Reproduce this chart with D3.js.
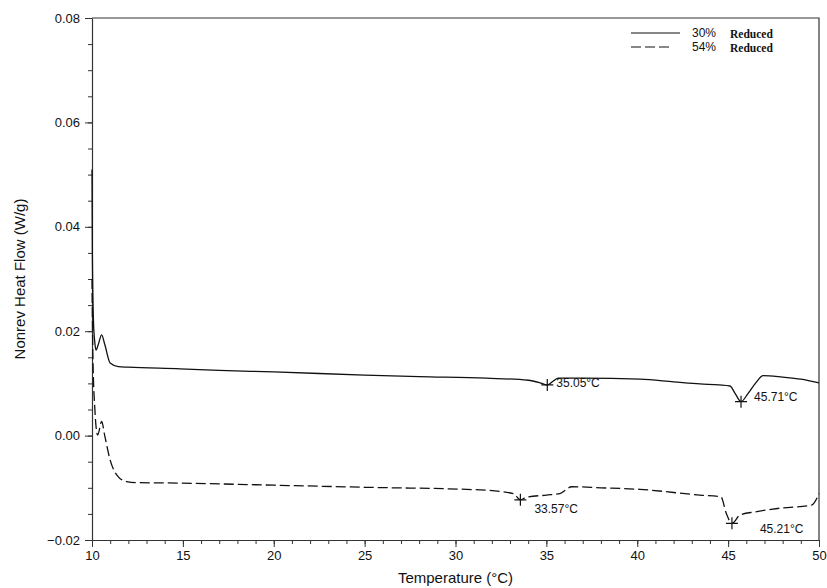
<!DOCTYPE html>
<html>
<head>
<meta charset="utf-8">
<script src="https://cdn.jsdelivr.net/npm/d3@7"></script>
<style>
  body { margin: 0; background: #fff; }
  svg { font-family: "Liberation Sans", Arial, sans-serif; }
</style>
</head>
<body>
<div id="chart"></div>
<script>
// Temperature (°C) and nonreversing heat flow (W/g)
var temp30 = [10.0, 10.02, 10.08, 10.15, 10.22, 10.35, 10.53, 10.7, 11.0, 11.45, 12, 14.84, 17, 20, 25, 28, 31.7, 34.0, 34.75, 35.05, 35.4, 35.65, 37, 40.16, 42, 43.45, 44.5, 45.1, 45.38, 45.71, 46.1, 46.5, 46.93, 48, 49, 50];
var flow30 = [0.051, 0.035, 0.022, 0.018, 0.0164, 0.0175, 0.0193, 0.0175, 0.0139, 0.0132, 0.0131, 0.0128, 0.0125, 0.0122, 0.0116, 0.0113, 0.0110, 0.0106, 0.0100, 0.0097, 0.0105, 0.0110, 0.0110, 0.0108, 0.0103, 0.0099, 0.0097, 0.0095, 0.0081, 0.0065, 0.0081, 0.0100, 0.0115, 0.0112, 0.0108, 0.0101];

var temp54 = [10.0, 10.05, 10.15, 10.31, 10.53, 10.7, 11.0, 11.45, 11.9, 12.5, 14.84, 20, 25, 31.35, 33.18, 33.57, 33.9, 35.0, 35.75, 36.4, 38, 40.15, 43.45, 44.6, 44.9, 45.21, 45.66, 46.5, 47.86, 49.6, 50];
var flow54 = [0.030, 0.015, 0.0055, 0.0001, 0.0027, 0.0000, -0.0047, -0.0079, -0.0088, -0.0090, -0.0091, -0.0095, -0.0099, -0.0104, -0.0111, -0.0123, -0.0118, -0.0114, -0.0111, -0.0098, -0.0100, -0.0103, -0.0114, -0.0117, -0.0149, -0.0168, -0.0152, -0.0146, -0.0139, -0.0133, -0.0111];

var seriesNames = ["30%", "54%"];
var peakTemps = [35.05, 45.71, 33.57, 45.21];
var peakFlows = [0.0097, 0.0065, -0.0123, -0.0168];
var peakLabels = ["35.05°C", "45.71°C", "33.57°C", "45.21°C"];

var xTicks = [10, 15, 20, 25, 30, 35, 40, 45, 50];
var yTicks = [-0.02, 0.00, 0.02, 0.04, 0.06, 0.08];

var width = 827,
    height = 588,
    margin = { top: 18, right: 8, bottom: 48, left: 92 };

var svg = d3.select("#chart").append("svg")
    .attr("width", width)
    .attr("height", height);

var x = d3.scaleLinear().domain([10, 50]).range([margin.left, width - margin.right]);
var y = d3.scaleLinear().domain([-0.02, 0.08]).range([height - margin.bottom, margin.top]);

var axisColor = "#333";

// frame (top + right)
svg.append("path")
    .attr("d", "M" + x(10) + "," + y(0.08) + "H" + x(50) + "V" + y(-0.02))
    .attr("fill", "none")
    .attr("stroke", axisColor)
    .attr("stroke-width", 1.2);

// minor ticks
svg.append("g")
    .attr("transform", "translate(0," + y(-0.02) + ")")
    .call(d3.axisBottom(x).tickValues(d3.range(10, 51, 1)).tickSize(4).tickFormat(""))
    .call(function (g) { g.select(".domain").remove(); g.selectAll("line").attr("stroke", axisColor); });

svg.append("g")
    .attr("transform", "translate(" + x(10) + ",0)")
    .call(d3.axisLeft(y).tickValues(d3.range(-4, 17).map(function (i) { return i * 0.005; })).tickSize(4).tickFormat(""))
    .call(function (g) { g.select(".domain").remove(); g.selectAll("line").attr("stroke", axisColor); });

// major axes
var xAxis = svg.append("g")
    .attr("transform", "translate(0," + y(-0.02) + ")")
    .call(d3.axisBottom(x).tickValues(xTicks).tickSize(7).tickSizeOuter(0).tickPadding(4).tickFormat(d3.format("d")));

var yAxis = svg.append("g")
    .attr("transform", "translate(" + x(10) + ",0)")
    .call(d3.axisLeft(y).tickValues(yTicks).tickSize(7).tickSizeOuter(0).tickPadding(5).tickFormat(d3.format(".2f")));

[xAxis, yAxis].forEach(function (g) {
    g.select(".domain").attr("stroke", axisColor).attr("stroke-width", 1.2);
    g.selectAll("line").attr("stroke", axisColor);
    g.selectAll("text")
        .attr("fill", "#111")
        .style("font-size", "13px")
        .style("font-family", "'Liberation Sans', Arial, sans-serif");
});

// axis titles
svg.append("text")
    .attr("x", (x(10) + x(50)) / 2)
    .attr("y", 583)
    .attr("text-anchor", "middle")
    .style("font-size", "15px")
    .attr("fill", "#111")
    .text("Temperature (°C)");

svg.append("text")
    .attr("transform", "translate(25," + ((y(-0.02) + y(0.08)) / 2) + ") rotate(-90)")
    .attr("text-anchor", "middle")
    .style("font-size", "15px")
    .attr("fill", "#111")
    .text("Nonrev Heat Flow (W/g)");

// curves
var line = d3.line()
    .x(function (d) { return x(d[0]); })
    .y(function (d) { return y(d[1]); })
    .curve(d3.curveMonotoneX);

var series = [
    { pts: d3.zip(temp30, flow30), dash: null },
    { pts: d3.zip(temp54, flow54), dash: "10,4" }
];

svg.append("g").selectAll("path")
    .data(series)
    .enter().append("path")
    .attr("d", function (d) { return line(d.pts); })
    .attr("fill", "none")
    .attr("stroke", "#111")
    .attr("stroke-width", 1.3)
    .attr("stroke-dasharray", function (d) { return d.dash; });

// peak markers and labels
var labelOffsets = [[9, 2], [13, -1], [14, 13], [28, 10]];

var peaks = svg.append("g").selectAll("g")
    .data(d3.range(peakTemps.length))
    .enter().append("g")
    .attr("transform", function (i) { return "translate(" + x(peakTemps[i]) + "," + y(peakFlows[i]) + ")"; });

peaks.append("path")
    .attr("d", "M-6,0H6M0,-6V6")
    .attr("stroke", "#111")
    .attr("stroke-width", 1.2);

peaks.append("text")
    .attr("x", function (i) { return labelOffsets[i][0]; })
    .attr("y", function (i) { return labelOffsets[i][1]; })
    .style("font-size", "12px")
    .attr("fill", "#111")
    .text(function (i) { return peakLabels[i]; });

// legend
var legend = svg.append("g").selectAll("g")
    .data(series)
    .enter().append("g")
    .attr("transform", function (d, i) { return "translate(631," + (33 + i * 14) + ")"; });

legend.append("line")
    .attr("x1", 0)
    .attr("x2", function (d, i) { return i === 0 ? 49 : 42; })
    .attr("stroke", "#111")
    .attr("stroke-width", 1.2)
    .attr("stroke-dasharray", function (d) { return d.dash; });

legend.append("text")
    .attr("x", 61)
    .attr("y", 4)
    .style("font-size", "12px")
    .attr("fill", "#111")
    .text(function (d, i) { return seriesNames[i]; });

legend.append("text")
    .attr("x", 99)
    .attr("y", 5)
    .style("font-size", "11.5px")
    .style("font-weight", "bold")
    .style("font-family", "'Liberation Serif', 'Times New Roman', serif")
    .attr("fill", "#111")
    .text("Reduced");
</script>
</body>
</html>
